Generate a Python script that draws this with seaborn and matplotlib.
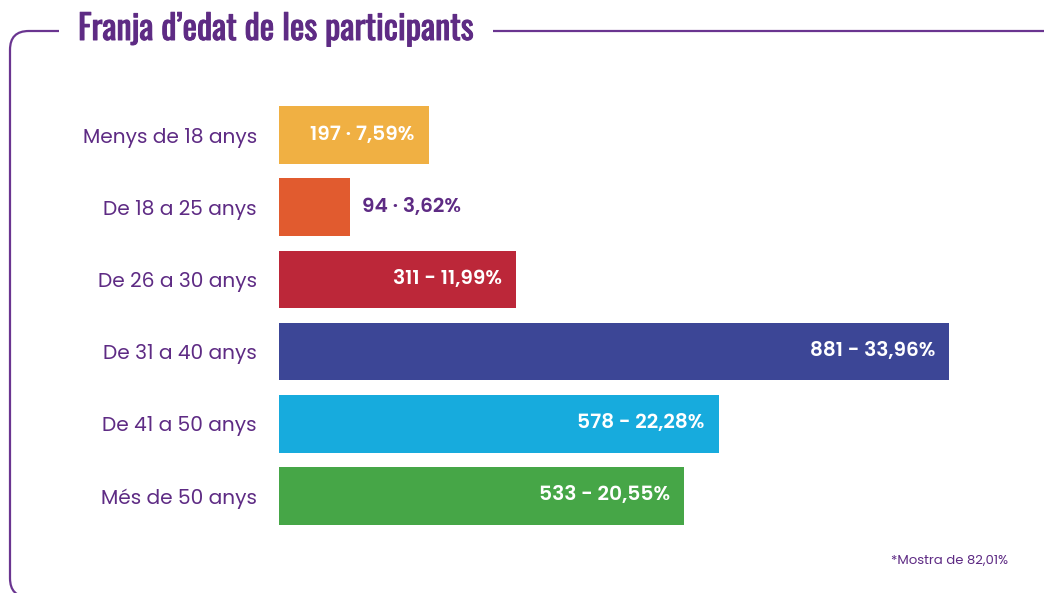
import pandas as pd
import matplotlib.pyplot as plt
import matplotlib.patheffects as pe
import seaborn as sns
from matplotlib.patches import FancyBboxPatch

# Dades
franges = ["Menys de 18 anys", "De 18 a 25 anys", "De 26 a 30 anys",
           "De 31 a 40 anys", "De 41 a 50 anys", "Més de 50 anys"]
participants = [197, 94, 311, 881, 578, 533]
etiquetes = ["197 · 7,59%", "94 · 3,62%", "311 - 11,99%",
             "881 - 33,96%", "578 - 22,28%", "533 - 20,55%"]
colors = ["#F0B043", "#E15B2F", "#BC2739", "#3C4696", "#17ABDD", "#46A647"]

purple = "#5E2B84"
line_purple = "#6A3590"
text_font = ["Poppins", "DejaVu Sans"]
title_font = ["Oswald", "Fira Sans Condensed", "DejaVu Sans"]

df = pd.DataFrame({"franja": franges, "n": participants})

W, H = 1044, 593
fig = plt.figure(figsize=(W / 100, H / 100), dpi=100)
fig.patch.set_facecolor("white")

# Marc arrodonit (surt fora de la figura per dreta i baix)
frame = FancyBboxPatch((10 / W, -4 / H), 1.2, 1 - 27 / H,
                       boxstyle="round,pad=0,rounding_size=0.018",
                       transform=fig.transFigure, fill=False,
                       edgecolor=line_purple, linewidth=1.6, zorder=0,
                       mutation_aspect=W / H)
fig.patches.append(frame)

# Títol amb fons blanc per tallar la línia (traç fi per simular la negreta)
fig.text(78 / W, 1 - 29 / H, "Franja d\u2019edat de les participants",
         ha="left", va="center", fontsize=24.7, fontweight="bold",
         family=title_font, color=purple,
         path_effects=[pe.withStroke(linewidth=0.7, foreground=purple)],
         bbox=dict(boxstyle="square,pad=0.55", fc="white", ec="none"),
         zorder=2)

ax = fig.add_axes([279 / W, 1 - 532 / H, 721 / W, 433 / H])
sns.barplot(data=df, x="n", y="franja", hue="franja", palette=colors,
            orient="h", width=0.8, legend=False, saturation=1, ax=ax)
ax.set_xlim(0, 948)
ax.set_ylim(5.5, -0.5)
ax.set_xlabel("")
ax.set_ylabel("")
ax.set_xticks([])
for s in ax.spines.values():
    s.set_visible(False)
ax.tick_params(axis="y", length=0, pad=16, labelsize=14.5, labelcolor=purple)
for t in ax.get_yticklabels():
    t.set_family(text_font)

for i, (v, lab) in enumerate(zip(participants, etiquetes)):
    if v < 150:
        ax.annotate(lab, (v, i), xytext=(12, 0), textcoords="offset pixels",
                    ha="left", va="center", fontsize=14.5, fontweight="semibold",
                    color=purple, family=text_font)
    else:
        ax.annotate(lab, (v, i), xytext=(-14, 0), textcoords="offset pixels",
                    ha="right", va="center", fontsize=14.5, fontweight="semibold",
                    color="white", family=text_font)

fig.text(1008 / W, 1 - 561 / H, "*Mostra de 82,01%", ha="right", va="center",
         fontsize=9.5, color=purple, family=text_font)

fig.savefig("out.png", dpi=100, facecolor="white")
